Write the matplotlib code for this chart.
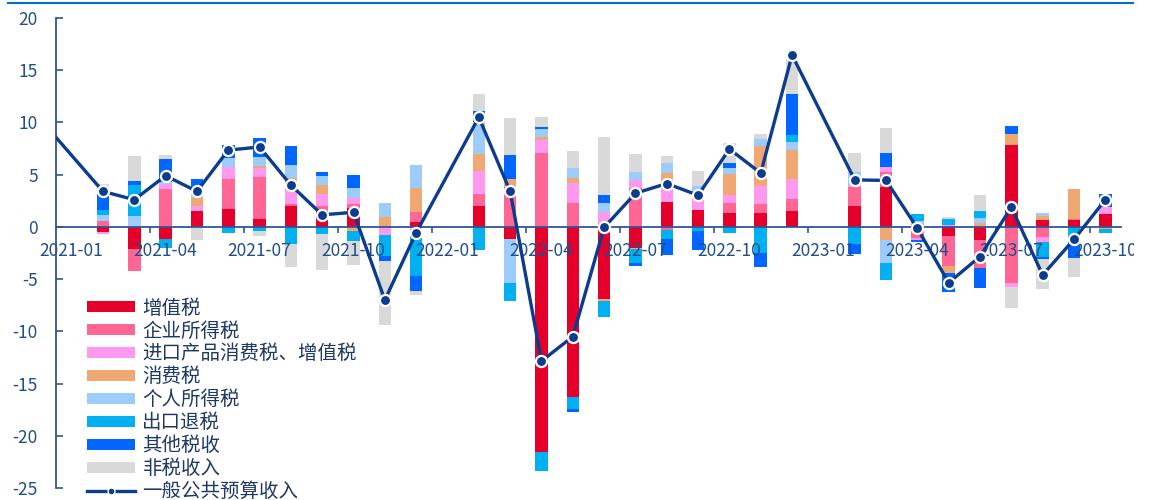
import numpy as np
import matplotlib.pyplot as plt
from matplotlib.patches import Rectangle
from matplotlib.lines import Line2D

plt.rcParams['font.family'] = ['Noto Sans CJK SC', 'DejaVu Sans']
plt.rcParams['axes.unicode_minus'] = False

# 月份(1月与2月合并公布, 1月留空)
months = [
    "2021-01", "2021-02", "2021-03", "2021-04", "2021-05", "2021-06",
    "2021-07", "2021-08", "2021-09", "2021-10", "2021-11", "2021-12",
    "2022-01", "2022-02", "2022-03", "2022-04", "2022-05", "2022-06",
    "2022-07", "2022-08", "2022-09", "2022-10", "2022-11", "2022-12",
    "2023-01", "2023-02", "2023-03", "2023-04", "2023-05", "2023-06",
    "2023-07", "2023-08", "2023-09", "2023-10",
]
nan = np.nan

vat = [nan, -0.5, -2.1, -1.2, 1.53, 1.72, 0.73, 2.0, 1.53, 1.79, 0, 0.48,
       nan, 2.0, -1.18, -21.53, -16.33, -6.86, -2.04, 2.36, 1.66, 1.37, 1.3, 1.53,
       nan, 2.04, 3.86, 0, -0.86, -1.24, 7.85, 0.64, 0.64, 1.24]
cit = [nan, 0.55, -2.1, 3.65, 0, 2.9, 4.0, 0.2, 0.48, 0.41, 0, 0.93,
       nan, 1.12, 3.8, 7.05, 2.26, 0.35, 3.7, -0.29, 0, 0.9, 0.9, 1.12,
       nan, 1.79, 1.4, -1.08, -2.93, -2.71, -5.39, -0.93, 0.13, 0]
imp = [nan, -0.2, 0, 0.45, 0.48, 1.08, 0.93, 1.56, 1.18, 0.57, -0.77, -0.5,
       nan, 2.26, 0, 1.28, 1.91, 1.05, 0.8, 1.82, 1.3, 0.8, 1.75, 1.91,
       nan, 0.13, 0.45, -0.16, 0.16, 0, -0.41, -0.48, 0, 0.7]
cons = [nan, 0, 0, 0, 0.8, 0, 0.16, 0.96, 0.8, -0.41, 0.9, 2.3,
        nan, 1.6, 0.83, 0.32, 0.54, -0.19, -0.1, 1.02, 0.45, 2.0, 3.83, 2.8,
        nan, 0, -1.28, 0.35, -0.64, 0.41, 1.05, 0.41, 2.81, -0.2]
pit = [nan, 0.55, 1.05, 0.2, 0.9, 0.86, 0.9, 1.2, 0.93, 1.0, 1.4, 2.23,
       nan, 3.1, -4.15, 0.7, 0.9, 0.86, 0.77, 0.96, 0.55, 0.54, 0.64, 0.8,
       nan, 1.28, -2.14, 0.2, 0, 0.48, 0, 0.32, 0, 0]
export_rebate = [nan, 0.5, 3.0, -0.85, 0, -0.6, -0.35, -1.66, -0.7, -0.9, -2.0, -4.2,
                 nan, -2.2, -1.72, -1.82, -1.12, -1.6, -1.3, -0.86, -0.35, -0.6, -2.46, 0.64,
                 nan, -1.63, -1.66, 0.73, 0.64, 0.67, 0, -1.5, -1.08, -0.41]
other = [nan, 1.6, 0.3, 2.2, 0.9, 1.3, 1.82, 1.82, 0.29, 1.2, -0.48, -1.45,
         nan, 1.05, 2.26, 0.19, -0.32, 0.83, -0.3, -1.53, -1.9, 0.54, -1.34, 3.92,
         nan, -0.96, 1.34, -0.19, -1.82, -1.91, 0.77, -0.19, -1.91, 1.24]
nontax = [nan, 0.95, 2.4, 0.4, -1.25, 0, -0.55, -2.14, -3.4, -2.3, -6.1, -0.35,
          nan, 1.56, 3.54, 0.96, 1.66, 5.52, 1.69, 0.64, 1.37, 1.85, 0.48, 3.73,
          nan, 1.82, 2.46, 0, 0.13, 1.47, -1.98, -2.87, -1.8, 0]

total = [nan, 3.4, 2.6, 4.9, 3.4, 7.35, 7.65, 4.0, 1.15, 1.4, -7.0, -0.55,
         nan, 10.5, 3.4, -12.85, -10.5, -0.05, 3.22, 4.15, 3.03, 7.45, 5.15, 16.45,
         nan, 4.5, 4.45, -0.13, -5.35, -2.84, 1.88, -4.6, -1.2, 2.6]
total_2020_12 = 10.3  # 图左侧被截断的上一期数值

series = [
    ("增值税", vat, "#E4002B"),
    ("企业所得税", cit, "#FF6694"),
    ("进口产品消费税、增值税", imp, "#FF99F0"),
    ("消费税", cons, "#F0A872"),
    ("个人所得税", pit, "#9DCBFB"),
    ("出口退税", export_rebate, "#00B0F0"),
    ("其他税收", other, "#0066FF"),
    ("非税收入", nontax, "#D9D9D9"),
]

navy = "#0B3C8E"
axis_blue = "#2F5597"
text_blue = "#1F4E8C"

fig = plt.figure(figsize=(11.49, 5.0), dpi=100)
ax = fig.add_axes([0.0487, 0.024, 0.9269, 0.94])

x = np.arange(len(months))
pos_base = np.zeros(len(months))
neg_base = np.zeros(len(months))
for name, vals, color in series:
    v = np.nan_to_num(np.array(vals, dtype=float))
    bottom = np.where(v >= 0, pos_base, neg_base)
    ax.bar(x, v, width=0.4, bottom=bottom, color=color, label=name, linewidth=0)
    pos_base += np.where(v > 0, v, 0)
    neg_base += np.where(v < 0, v, 0)

tot = np.array(total, dtype=float)
ok = ~np.isnan(tot)
lx = np.concatenate([[-1], x[ok]])
ly = np.concatenate([[total_2020_12], tot[ok]])
ax.plot(lx, ly, color=navy, linewidth=2.4, marker="o", markersize=8,
        markerfacecolor=navy, markeredgecolor="white", markeredgewidth=1.6,
        zorder=5)

ax.set_xlim(-0.5, len(months) - 0.5)
ax.set_ylim(-25, 20)
ax.set_yticks(np.arange(-25, 21, 5))

for s in ["top", "right"]:
    ax.spines[s].set_visible(False)
ax.spines["bottom"].set_position(("data", 0))
ax.spines["bottom"].set_color(axis_blue)
ax.spines["bottom"].set_linewidth(1.3)
ax.spines["left"].set_color(axis_blue)
ax.spines["left"].set_linewidth(1.3)

ax.set_xticks(x[::3])
ax.set_xticklabels(months[::3])
ax.set_xticks(np.arange(2.5, len(months) - 1, 3), minor=True)
ax.tick_params(axis="x", which="major", length=0, pad=11, labelsize=12.5,
               labelcolor=text_blue)
ax.tick_params(axis="x", which="minor", length=4, direction="out",
               color=axis_blue, width=1.2)
ax.tick_params(axis="y", direction="in", length=5, color=axis_blue, width=1.2,
               pad=13, labelsize=12.5, labelcolor=text_blue)

handles, labels = ax.get_legend_handles_labels()
line_handle = Line2D([], [], color=navy, linewidth=2.4, marker="o", markersize=5,
                     markerfacecolor=navy, markeredgecolor="white",
                     markeredgewidth=1.0)
handles.append(line_handle)
labels.append("一般公共预算收入")
leg = fig.legend(handles, labels, loc="upper left",
                 bbox_to_anchor=(0.0757, 0.405), frameon=False, fontsize=14,
                 handlelength=2.45, handleheight=0.5, handletextpad=0.4,
                 labelspacing=0.1, borderpad=0, borderaxespad=0)
for t in leg.get_texts():
    t.set_color("#1F3864")

# 顶部蓝色细线
fig.add_artist(Line2D([0.007, 0.986], [0.994, 0.994], color="#0070C0",
                      linewidth=1.5, transform=fig.transFigure))
# 右侧截图边缘
fig.add_artist(Rectangle((0.987, 0), 0.013, 0.99, transform=fig.transFigure,
                         facecolor="white", edgecolor="none", zorder=10))

fig.savefig("out.png", dpi=100)
